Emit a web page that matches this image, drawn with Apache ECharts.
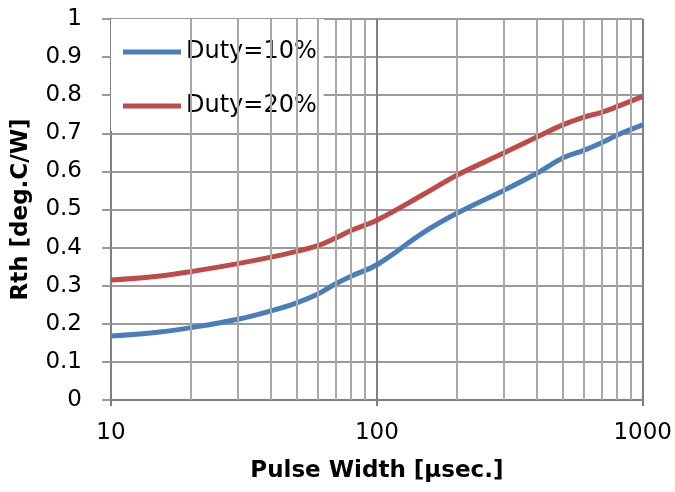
<!DOCTYPE html>
<html><head><meta charset="utf-8">
<script src="https://cdn.jsdelivr.net/npm/echarts@6/dist/echarts.min.js"></script>
<style>html,body{margin:0;padding:0;background:#fff}#c{width:675px;height:492px}</style>
</head><body><div id="c"></div>
<script>
const pulseWidth = [10, 15, 20, 30, 40, 50, 60, 70, 80, 100, 150, 200, 300, 400, 500, 600, 700, 800, 1000];
const duty10 = [0.168, 0.178, 0.19, 0.212, 0.234, 0.255, 0.278, 0.305, 0.325, 0.355, 0.44, 0.49, 0.55, 0.595, 0.635, 0.655, 0.675, 0.695, 0.722];
const duty20 = [0.315, 0.325, 0.337, 0.358, 0.375, 0.39, 0.405, 0.425, 0.445, 0.472, 0.54, 0.59, 0.648, 0.69, 0.722, 0.742, 0.755, 0.77, 0.797];
const minorGrid = [20, 30, 40, 50, 60, 70, 80, 90, 200, 300, 400, 500, 600, 700, 800, 900];
const seriesNames = ['Duty=10%', 'Duty=20%'];
const FONT = 'DejaVu Sans';
const chart = echarts.init(document.getElementById('c'));
chart.setOption({
  animation: false,
  grid: {left: 111, right: 32, top: 19, bottom: 92},
  legend: {
    data: seriesNames, orient: 'vertical', left: 111, top: 19,
    padding: [19, 7, 11, 12], backgroundColor: '#fff',
    icon: 'rect', itemWidth: 58, itemHeight: 5, itemGap: 26,
    textStyle: {fontFamily: FONT, fontSize: 24, color: '#000', lineHeight: 28}
  },
  xAxis: {
    type: 'log', logBase: 10, min: 10, max: 1000,
    name: 'Pulse Width [µsec.]', nameLocation: 'middle', nameGap: 60,
    nameTextStyle: {fontFamily: FONT, fontSize: 23, fontWeight: 'bold', color: '#000'},
    axisLine: {lineStyle: {color: '#808080', width: 2}},
    axisTick: {show: true, length: 6, lineStyle: {color: '#808080', width: 2}},
    axisLabel: {fontFamily: FONT, fontSize: 23, color: '#000', margin: 22, formatter: v => String(v)},
    splitLine: {show: true, lineStyle: {color: '#808080', width: 2}}
  },
  yAxis: {
    type: 'value', min: 0, max: 1, interval: 0.1,
    name: 'Rth [deg.C/W]', nameLocation: 'middle', nameGap: 78, nameRotate: 90,
    nameTextStyle: {fontFamily: FONT, fontSize: 23, fontWeight: 'bold', color: '#000'},
    axisLine: {show: true, lineStyle: {color: '#808080', width: 2}},
    axisTick: {show: true, length: 9, lineStyle: {color: '#999', width: 2}},
    axisLabel: {fontFamily: FONT, fontSize: 23, color: '#000', margin: 29},
    splitLine: {show: true, lineStyle: {color: '#9a9a9a', width: 2}}
  },
  series: [
    {
      type: 'line', name: 'minor', data: [], z: 1, silent: true,
      markLine: {
        silent: true, symbol: 'none', animation: false,
        label: {show: false},
        lineStyle: {color: '#a8a8a8', width: 2, type: 'solid'},
        emphasis: {disabled: true},
        data: minorGrid.map(v => ({xAxis: v}))
      }
    },
    {
      type: 'line', name: seriesNames[0], smooth: 0.4, symbol: 'none', z: 3,
      data: pulseWidth.map((x, i) => [x, duty10[i]]),
      lineStyle: {color: '#4a7ebb', width: 5}, itemStyle: {color: '#4a7ebb'}
    },
    {
      type: 'line', name: seriesNames[1], smooth: 0.4, symbol: 'none', z: 3,
      data: pulseWidth.map((x, i) => [x, duty20[i]]),
      lineStyle: {color: '#be4b48', width: 5}, itemStyle: {color: '#be4b48'}
    }
  ]
});
</script></body></html>
